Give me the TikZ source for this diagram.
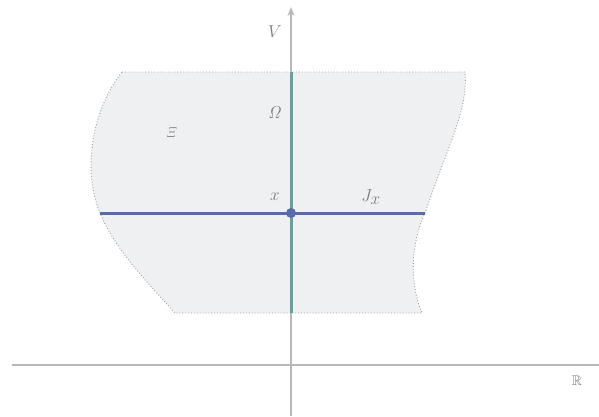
\documentclass[tikz,border=0pt]{standalone}
\usepackage{amssymb}
\usetikzlibrary{arrows.meta}
\definecolor{axisgray}{HTML}{B6B8BC}
\definecolor{regionfill}{HTML}{EFF0F2}
\definecolor{regionedge}{HTML}{9A9CA0}
\definecolor{lineblue}{HTML}{5B6AA8}
\definecolor{linegreen}{HTML}{6F9D99}
\definecolor{labelgray}{HTML}{7A7C80}
\tikzset{
  axis/.style={draw=axisgray, line width=2.3pt},
  region/.style={fill=regionfill, draw=regionedge, line width=0.9pt, dotted},
  lbl/.style={text=labelgray, font=\fontsize{17}{20}\selectfont, inner sep=0pt},
}
\begin{document}
\begin{tikzpicture}[x=1pt,y=-1pt]
\useasboundingbox (0,0) rectangle (599,416);
% region
\path[region] (122,72) -- (465,72)
  .. controls (468,110) and (450,140) .. (425,213)
  .. controls (410,245) and (410,285) .. (422,313)
  -- (175,313)
  .. controls (150,285) and (115,250) .. (100,213)
  .. controls (82,170) and (92,110) .. (122,72) -- cycle;
% axes
\coordinate (hL) at (12,365);
\coordinate (hR) at (599,365);
\coordinate (vB) at (291,416);
\coordinate (vT) at (291,7);
\draw[axis] (hL) -- (hR);
\draw[axis, -{Stealth[length=9pt,width=7pt]}] (vB) -- (vT);
% lines
\coordinate (gT) at (291,72);
\coordinate (gB) at (291,313);
\coordinate (bL) at (100,213);
\coordinate (bR) at (425,213);
\draw[linegreen, line width=3pt] (gT) -- (gB);
\draw[lineblue, line width=3pt] (bL) -- (bR);
\node[circle, fill=lineblue, minimum size=10pt, inner sep=0pt] (pt) at (291,213) {};
% labels
\node[lbl] (V) at (275,32) {$V$};
\node[lbl] (Om) at (275,113) {$\mathit{\Omega}$};
\node[lbl, font=\fontsize{15}{17}\selectfont] (Xi) at (172,133) {$\mathit{\Xi}$};
\node[lbl] (x) at (275,197) {$x$};
\node[lbl] (J) at (371,197) {$J_{\textstyle x}$};
\node[lbl, font=\fontsize{14}{16}\selectfont] (R) at (577,381) {$\mathbb{R}$};
\end{tikzpicture}
\end{document}
